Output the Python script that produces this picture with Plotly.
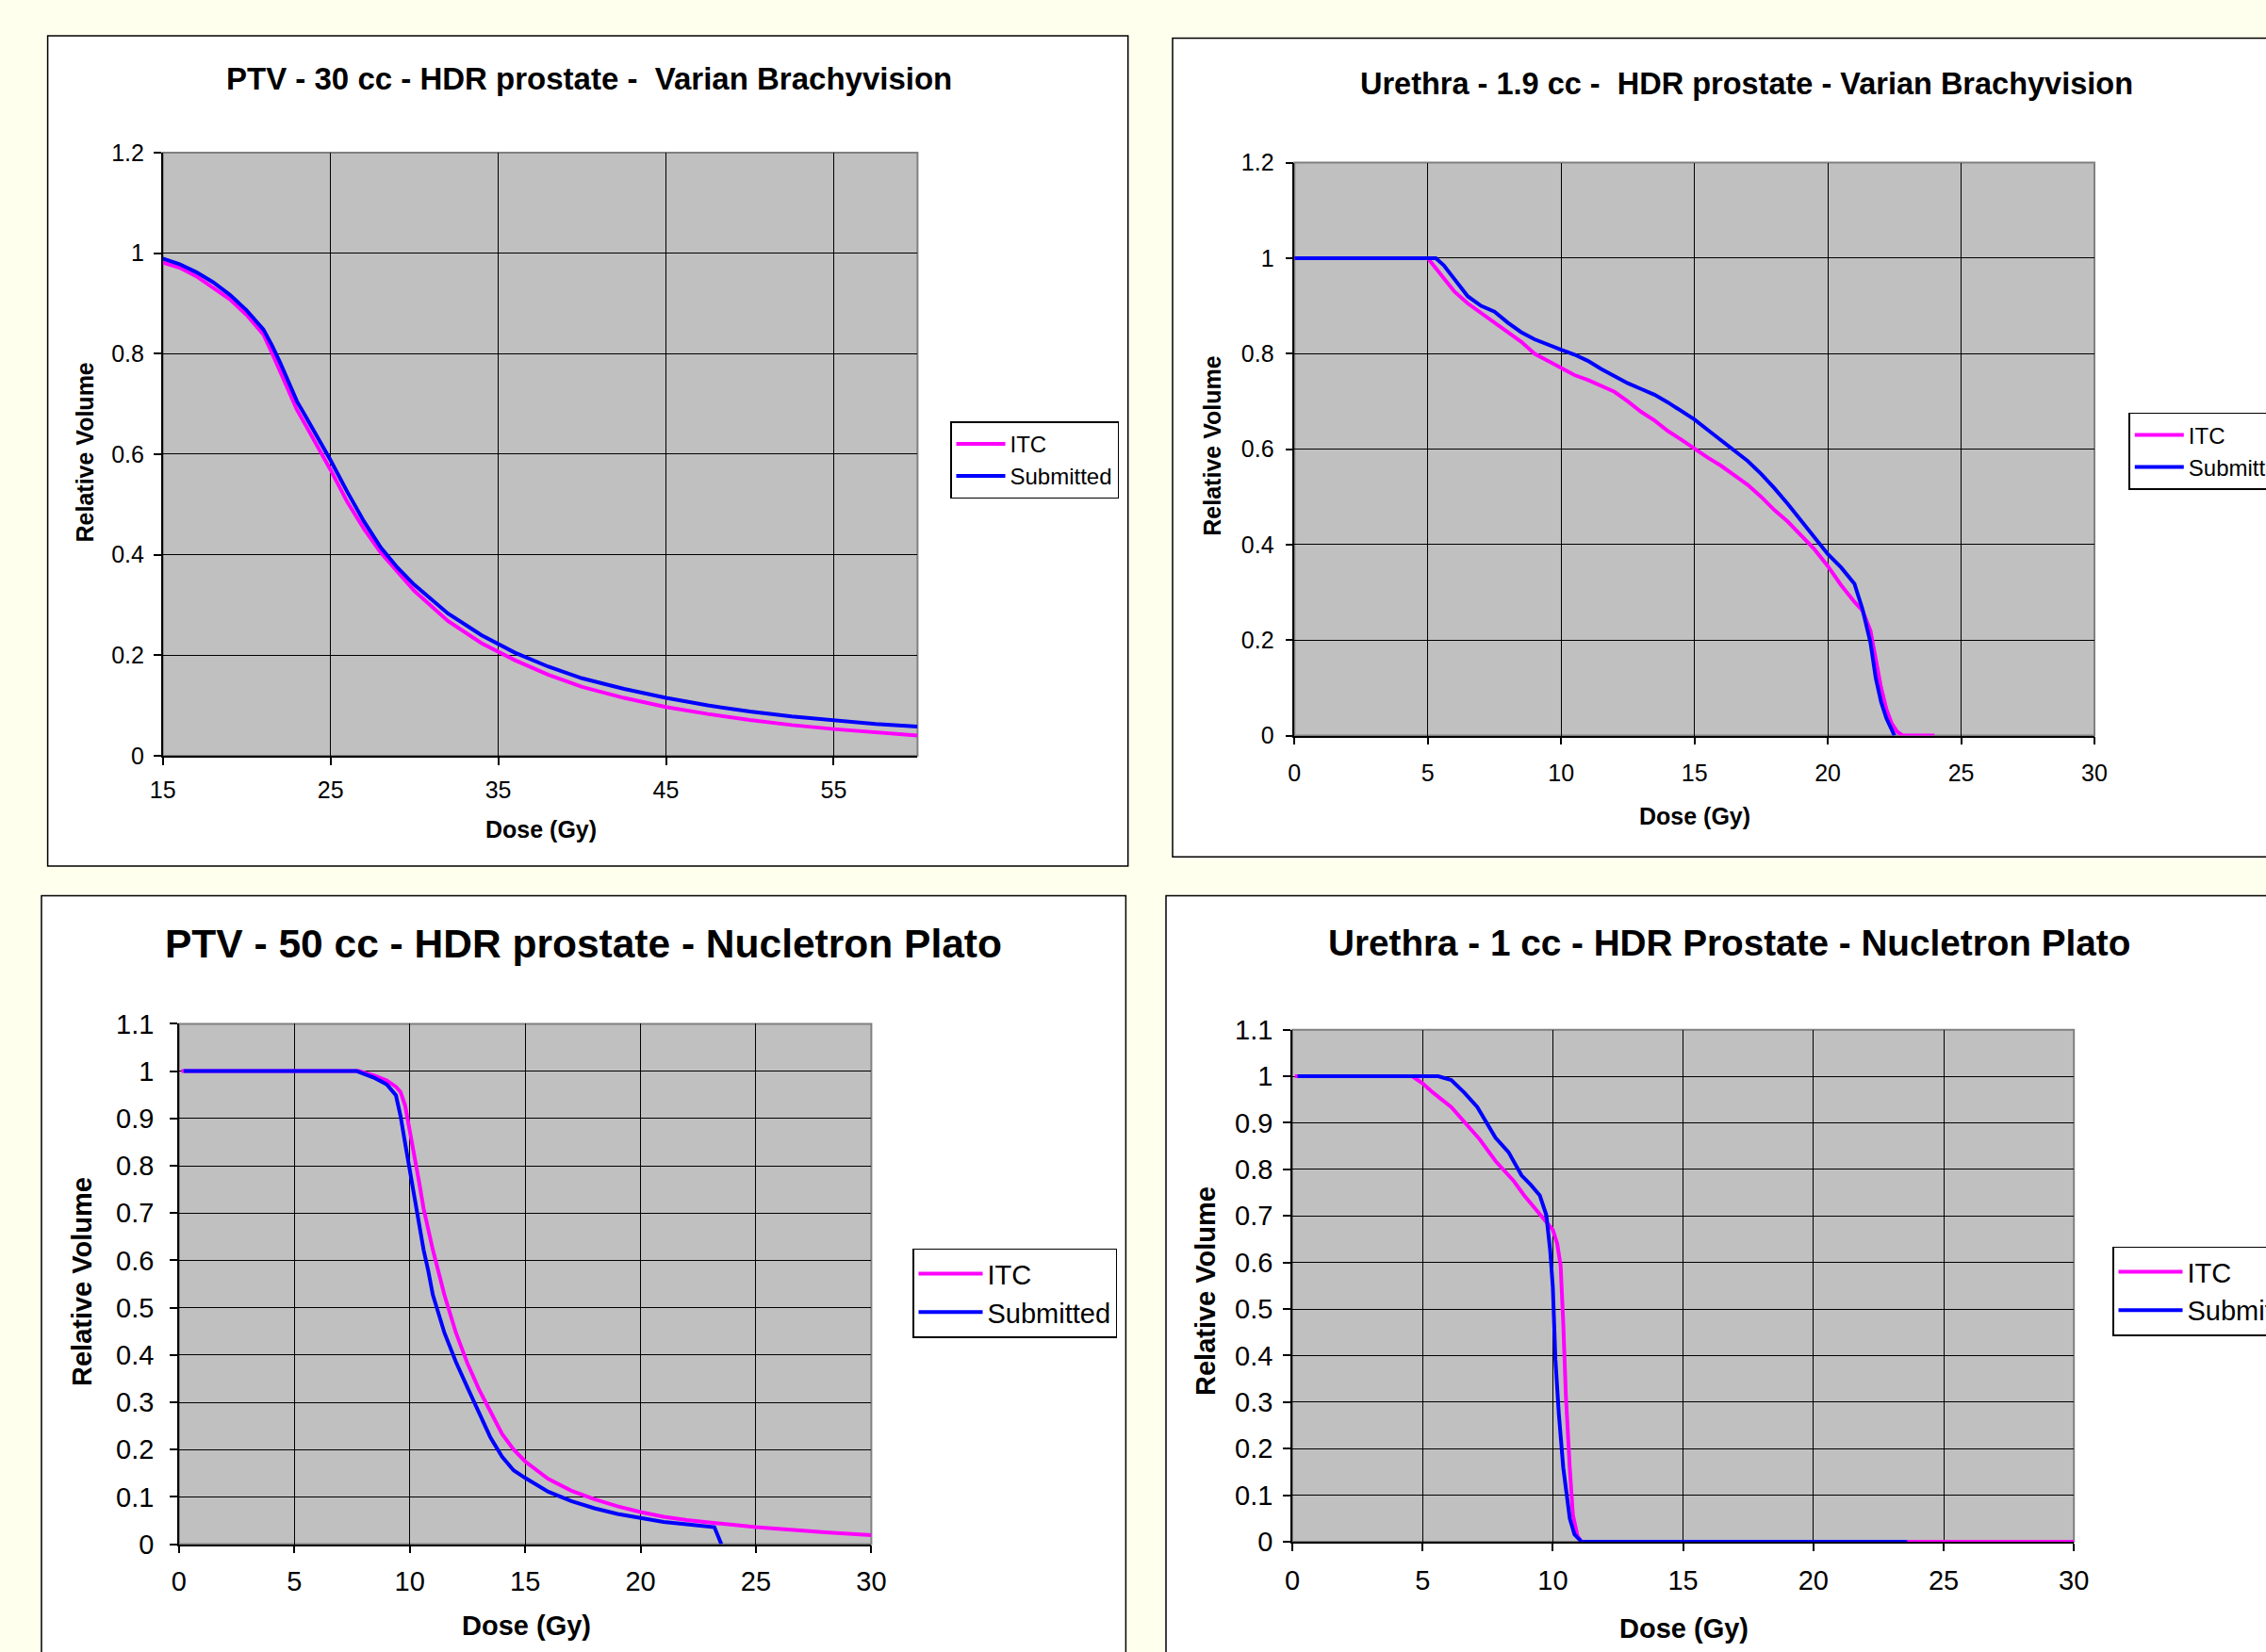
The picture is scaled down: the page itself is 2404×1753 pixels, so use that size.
import plotly.graph_objects as go

W, H = 2404, 1753
FONT = "Liberation Sans, Arial, sans-serif"
MAGENTA = "#FF00FF"
BLUE = "#0000FF"

# ---------------- data ----------------
# Panel 1: PTV - 30 cc - Varian Brachyvision
p1_dose = [15, 16, 17, 18, 19, 20, 21, 21.5, 22, 22.5, 23, 23.5, 24, 24.5, 25, 26, 27, 28, 29,
           30, 32, 34, 36, 38, 40, 42.5, 45, 47.5, 50, 52.5, 55, 57.5, 60]
p1_itc = [0.981, 0.971, 0.954, 0.931, 0.908, 0.877, 0.838, 0.802, 0.763, 0.723, 0.688, 0.659,
          0.630, 0.600, 0.569, 0.505, 0.451, 0.404, 0.365, 0.328, 0.268, 0.224, 0.190, 0.161,
          0.137, 0.115, 0.097, 0.083, 0.071, 0.061, 0.053, 0.046, 0.040]
p1_sub = [0.989, 0.978, 0.962, 0.942, 0.917, 0.886, 0.848, 0.817, 0.782, 0.743, 0.705, 0.676,
          0.647, 0.616, 0.588, 0.525, 0.466, 0.414, 0.374, 0.340, 0.283, 0.240, 0.205, 0.177,
          0.154, 0.133, 0.115, 0.100, 0.088, 0.078, 0.070, 0.063, 0.058]

# Panel 2: Urethra - 1.9 cc - Varian Brachyvision
p2_itc_dose = [0, 5.0, 5.5, 6.0, 6.5, 7.0, 7.5, 8.0, 8.5, 9.0, 9.5, 10, 10.5, 11, 11.5, 12, 12.5,
               13, 13.5, 14, 14.5, 15, 15.5, 16, 16.5, 17, 17.5, 18, 18.5, 19, 19.5, 20, 20.5,
               21, 21.3, 21.6, 21.8, 22.0, 22.2, 22.4, 22.6, 22.8, 24.0]
p2_itc = [1, 1, 0.965, 0.930, 0.905, 0.885, 0.865, 0.845, 0.825, 0.800, 0.785, 0.768, 0.755,
          0.745, 0.732, 0.720, 0.700, 0.678, 0.660, 0.638, 0.620, 0.600, 0.582, 0.565, 0.545,
          0.525, 0.500, 0.472, 0.448, 0.420, 0.390, 0.355, 0.315, 0.280, 0.262, 0.220, 0.160,
          0.100, 0.055, 0.025, 0.008, 0.0, 0.0]
p2_sub_dose = [0, 5.3, 5.6, 6.0, 6.5, 7.0, 7.5, 8.0, 8.5, 9.0, 9.5, 10, 10.5, 11, 11.5, 12, 12.5,
               13, 13.5, 14, 14.5, 15, 15.5, 16, 16.5, 17, 17.5, 18, 18.5, 19, 19.5, 20, 20.5,
               21, 21.3, 21.6, 21.8, 22.0, 22.2, 22.4, 22.5]
p2_sub = [1, 1, 0.985, 0.955, 0.920, 0.900, 0.888, 0.865, 0.845, 0.830, 0.818, 0.808, 0.798,
          0.785, 0.768, 0.752, 0.738, 0.726, 0.714, 0.698, 0.680, 0.662, 0.640, 0.618, 0.598,
          0.575, 0.548, 0.518, 0.485, 0.450, 0.415, 0.380, 0.352, 0.318, 0.265, 0.195, 0.120,
          0.070, 0.036, 0.012, 0.0]

# Panel 3: PTV - 50 cc - Nucletron Plato
p3_itc_dose = [0.1, 7.8, 8.5, 9.0, 9.4, 9.6, 9.8, 10.0, 10.2, 10.4, 10.6, 10.8, 11.0, 11.5, 12,
               12.5, 13, 13.5, 14, 14.5, 15, 16, 17, 18, 19, 20, 21, 22, 23.2, 24, 25, 26, 28,
               30]
p3_itc = [1, 1, 0.990, 0.980, 0.967, 0.956, 0.927, 0.876, 0.818, 0.767, 0.709, 0.665, 0.622,
          0.527, 0.447, 0.382, 0.327, 0.280, 0.233, 0.200, 0.175, 0.138, 0.113, 0.095, 0.080,
          0.068, 0.058, 0.051, 0.044, 0.041, 0.036, 0.032, 0.025, 0.019]
p3_sub_dose = [0.2, 7.7, 8.5, 9.0, 9.4, 9.6, 9.8, 10.0, 10.2, 10.4, 10.6, 10.8, 11.0, 11.5, 12,
               12.5, 13, 13.5, 14, 14.5, 15, 16, 17, 18, 19, 20, 21, 22, 23.2, 23.5]
p3_sub = [1, 1, 0.985, 0.972, 0.949, 0.905, 0.847, 0.789, 0.731, 0.680, 0.622, 0.578, 0.527,
          0.447, 0.385, 0.331, 0.280, 0.225, 0.185, 0.156, 0.140, 0.111, 0.091, 0.076, 0.064,
          0.055, 0.047, 0.042, 0.036, 0.0]

# Panel 4: Urethra - 1 cc - Nucletron Plato
p4_itc_dose = [0.1, 4.6, 5.0, 5.4, 6.1, 6.6, 7.2, 7.8, 8.5, 8.9, 9.4, 9.75, 10.0, 10.17, 10.3,
               10.4, 10.5, 10.65, 10.77, 10.95, 11.1, 30]
p4_itc = [1, 1, 0.985, 0.965, 0.934, 0.903, 0.864, 0.818, 0.775, 0.744, 0.709, 0.686, 0.670,
          0.640, 0.593, 0.469, 0.314, 0.159, 0.058, 0.012, 0.0, 0.0]
p4_sub_dose = [0.2, 5.6, 6.1, 6.6, 7.1, 7.45, 7.8, 8.3, 8.8, 9.15, 9.5, 9.75, 9.9, 10.0, 10.1,
               10.23, 10.4, 10.65, 10.83, 11.1, 23.6]
p4_sub = [1, 1, 0.992, 0.965, 0.934, 0.899, 0.868, 0.837, 0.787, 0.767, 0.744, 0.702, 0.624,
          0.547, 0.391, 0.275, 0.159, 0.050, 0.016, 0.0, 0.0]

series_names = ["ITC", "Submitted"]
titles = ["PTV - 30 cc - HDR prostate -  Varian Brachyvision",
          "Urethra - 1.9 cc -  HDR prostate - Varian Brachyvision",
          "PTV - 50 cc - HDR prostate - Nucletron Plato",
          "Urethra - 1 cc - HDR Prostate - Nucletron Plato"]
x_title = "Dose (Gy)"
y_title = "Relative Volume"


def X(px):
    return px / W


def Y(py):
    return 1 - py / H


panels = [
    dict(itc=(p1_dose, p1_itc), sub=(p1_dose, p1_sub), xr=[15, 60], tick0=15, dtick=10,
         yr=[0, 1.2], ydt=0.2, plot=(172.7, 973.4, 161.9, 801.9),
         box=(50.6, 1196.7, 38, 919), title_xy=(625, 83), tsize=33,
         ytit=(89.5, 480), xtit=(574, 880), asize=25, tick=25, xso=5, yso=5,
         leg=(1008, 447.3), lsize=24, iw=52),
    dict(itc=(p2_itc_dose, p2_itc), sub=(p2_sub_dose, p2_sub), xr=[0, 30], tick0=0, dtick=5,
         yr=[0, 1.2], ydt=0.2, plot=(1373.3, 2222, 172.6, 780.5),
         box=(1244, 2420, 40.5, 909.3), title_xy=(1853, 89), tsize=32.5,
         ytit=(1285.7, 473), xtit=(1798, 866), asize=25, tick=25, xso=9, yso=7,
         leg=(2258.3, 437.8), lsize=24, iw=52),
    dict(itc=(p3_itc_dose, p3_itc), sub=(p3_sub_dose, p3_sub), xr=[0, 30], tick0=0, dtick=5,
         yr=[0, 1.1], ydt=0.1, plot=(189.9, 924.4, 1086.4, 1638.6),
         box=(44, 1194.4, 950.5, 1780), title_xy=(619.4, 1002), tsize=42.5,
         ytit=(87, 1360), xtit=(558, 1725), asize=29, tick=29, xso=5, yso=11,
         leg=(968, 1324.7), lsize=29, iw=68),
    dict(itc=(p4_itc_dose, p4_itc), sub=(p4_sub_dose, p4_sub), xr=[0, 30], tick0=0, dtick=5,
         yr=[0, 1.1], ydt=0.1, plot=(1371, 2200.2, 1092.7, 1636),
         box=(1237, 2420, 950.5, 1780), title_xy=(1834.3, 1001), tsize=38.7,
         ytit=(1279, 1370), xtit=(1786, 1728), asize=29, tick=29, xso=6, yso=5,
         leg=(2241, 1322.6), lsize=29, iw=68),
]

fig = go.Figure()
shapes = []
annotations = []
layout = dict(
    width=W, height=H,
    margin=dict(l=0, r=0, t=0, b=0, pad=0, autoexpand=False),
    paper_bgcolor="#FFFFEE",
    plot_bgcolor="rgba(0,0,0,0)",
    font=dict(family=FONT, color="black"),
    showlegend=True,
)

# white panel boxes first
for p in panels:
    x0, x1, y0, y1 = p["box"]
    shapes.append(dict(type="rect", xref="paper", yref="paper", layer="below",
                       x0=X(x0), x1=X(x1), y0=Y(y1), y1=Y(y0),
                       fillcolor="white", line=dict(color="black", width=1.5)))

for i, p in enumerate(panels):
    n = "" if i == 0 else str(i + 1)
    xa, ya = "x" + n, "y" + n
    lg = "legend" + n
    px0, px1, py0, py1 = p["plot"]
    layout["xaxis" + n] = dict(
        domain=[X(px0), X(px1)], range=p["xr"], tick0=p["tick0"], dtick=p["dtick"],
        anchor=ya, showgrid=True, gridcolor="black", gridwidth=1,
        showline=True, linecolor="black", linewidth=1.5, zeroline=False,
        ticks="outside", ticklen=8, tickwidth=1.5, tickcolor="black",
        ticklabelstandoff=p["xso"],
        tickfont=dict(size=p["tick"], family=FONT, color="black"), fixedrange=True)
    layout["yaxis" + n] = dict(
        domain=[Y(py1), Y(py0)], range=p["yr"], tick0=0, dtick=p["ydt"],
        anchor=xa, showgrid=True, gridcolor="black", gridwidth=1,
        showline=True, linecolor="black", linewidth=1.5, zeroline=False,
        ticks="outside", ticklen=8, tickwidth=1.5, tickcolor="black",
        ticklabelstandoff=p["yso"],
        tickfont=dict(size=p["tick"], family=FONT, color="black"), fixedrange=True)
    # gray plot area with gray border
    shapes.append(dict(type="rect", xref=xa + " domain", yref=ya + " domain", layer="below",
                       x0=0, x1=1, y0=0, y1=1, fillcolor="#C0C0C0",
                       line=dict(color="#808080", width=2)))
    layout[lg] = dict(
        x=X(p["leg"][0]), y=Y(p["leg"][1]), xanchor="left", yanchor="top",
        xref="paper", yref="paper",
        bgcolor="white", bordercolor="black", borderwidth=1.5,
        font=dict(size=p["lsize"], family=FONT, color="black"),
        tracegroupgap=0, itemwidth=p["iw"])
    fig.add_trace(go.Scatter(x=p["itc"][0], y=p["itc"][1], mode="lines", name=series_names[0],
                             line=dict(color=MAGENTA, width=4), xaxis=xa, yaxis=ya,
                             legend=lg))
    fig.add_trace(go.Scatter(x=p["sub"][0], y=p["sub"][1], mode="lines", name=series_names[1],
                             line=dict(color=BLUE, width=4), xaxis=xa, yaxis=ya,
                             legend=lg))
    # titles
    annotations.append(dict(text="<b>%s</b>" % titles[i], xref="paper", yref="paper",
                            x=X(p["title_xy"][0]), y=Y(p["title_xy"][1]),
                            xanchor="center", yanchor="middle", showarrow=False,
                            font=dict(size=p["tsize"], family=FONT, color="black")))
    annotations.append(dict(text="<b>%s</b>" % y_title, xref="paper", yref="paper",
                            x=X(p["ytit"][0]), y=Y(p["ytit"][1]), textangle=-90,
                            xanchor="center", yanchor="middle", showarrow=False,
                            font=dict(size=p["asize"], family=FONT, color="black")))
    annotations.append(dict(text="<b>%s</b>" % x_title, xref="paper", yref="paper",
                            x=X(p["xtit"][0]), y=Y(p["xtit"][1]),
                            xanchor="center", yanchor="middle", showarrow=False,
                            font=dict(size=p["asize"], family=FONT, color="black")))

layout["shapes"] = shapes
layout["annotations"] = annotations
fig.update_layout(**layout)

fig.write_html("out.html", post_script="document.body.style.margin='0';",
               config={"displayModeBar": False})
